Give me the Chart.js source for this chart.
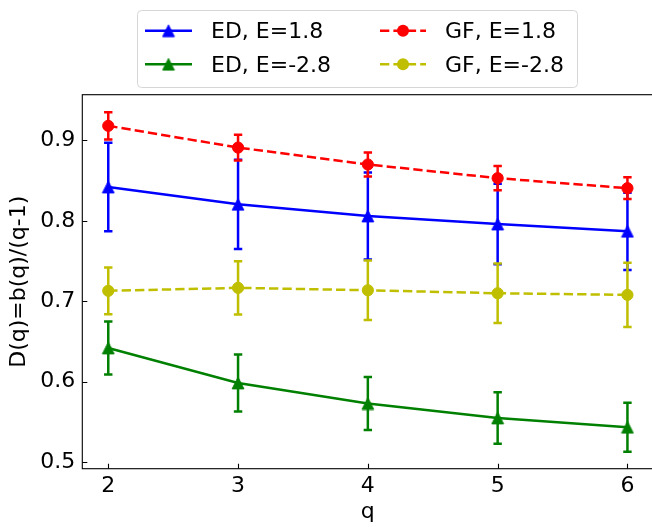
<!DOCTYPE html>
<html>
<head>
<meta charset="utf-8">
<script src="https://cdn.jsdelivr.net/npm/chart.js@4"></script>
<style>
  html, body { margin: 0; padding: 0; background: #fff; overflow: hidden; }
  #wrap { position: relative; width: 660px; height: 527px; }
</style>
</head>
<body>
<div id="wrap"><canvas id="myChart"></canvas></div>
<script>
// q values on the x axis
const qValues = [2, 3, 4, 5, 6];

// ED, E=1.8
const edHigh = [0.842, 0.8205, 0.806, 0.796, 0.787];
const edHighErr = [0.055, 0.0555, 0.054, 0.050, 0.048];
// ED, E=-2.8
const edLow = [0.642, 0.5985, 0.573, 0.555, 0.5435];
const edLowErr = [0.033, 0.0355, 0.033, 0.032, 0.0305];
// GF, E=1.8
const gfHigh = [0.918, 0.891, 0.870, 0.853, 0.8405];
const gfHighErr = [0.017, 0.016, 0.015, 0.015, 0.0135];
// GF, E=-2.8
const gfLow = [0.713, 0.7167, 0.7137, 0.710, 0.708];
const gfLowErr = [0.029, 0.033, 0.037, 0.037, 0.040];

const xTicks = [2, 3, 4, 5, 6];
const yTicks = [0.5, 0.6, 0.7, 0.8, 0.9];

const FONT = "'DejaVu Sans', sans-serif";
const LW = 2.5;
const DASH = [9.3, 4.1];

// triangle marker like matplotlib '^'
function makeTriangle(color) {
  var c = document.createElement("canvas");
  c.width = 14; c.height = 14;
  var g = c.getContext("2d");
  g.fillStyle = color;
  g.strokeStyle = color;
  g.lineWidth = 1;
  g.beginPath();
  g.moveTo(7, 1.2);
  g.lineTo(12.9, 12.9);
  g.lineTo(1.1, 12.9);
  g.closePath();
  g.fill();
  g.stroke();
  return c;
}

function pts(ys) {
  return qValues.map(function (q, i) { return { x: q, y: ys[i] }; });
}

var triBlue = makeTriangle("#0000ff");
var triGreen = makeTriangle("#008000");

var series = [
  { label: "ED, E=1.8", data: pts(edHigh), errors: edHighErr, borderColor: "#0000ff",
    pointStyle: triBlue, borderDash: [], order: 3 },
  { label: "ED, E=-2.8", data: pts(edLow), errors: edLowErr, borderColor: "#008000",
    pointStyle: triGreen, borderDash: [], order: 2 },
  { label: "GF, E=1.8", data: pts(gfHigh), errors: gfHighErr, borderColor: "#ff0000",
    pointStyle: "circle", borderDash: DASH, order: 1 },
  { label: "GF, E=-2.8", data: pts(gfLow), errors: gfLowErr, borderColor: "#bfbf00",
    pointStyle: "circle", borderDash: DASH, order: 0 },
];

series.forEach(function (s) {
  s.backgroundColor = s.borderColor;
  s.pointBackgroundColor = s.borderColor;
  s.pointBorderColor = s.borderColor;
  s.pointBorderWidth = 1;
  s.pointRadius = 5.6;
  s.borderWidth = LW;
  s.tension = 0;
  s.fill = false;
});

// error bars, drawn just under each series
var errorBars = {
  id: "errorBars",
  beforeDatasetDraw: function (chart, args) {
    var ds = chart.data.datasets[args.index];
    var xs = chart.scales.x, ys = chart.scales.y;
    var ctx = chart.ctx;
    var cap = 4.2;
    ctx.save();
    ctx.strokeStyle = ds.borderColor;
    ctx.lineWidth = LW;
    ctx.setLineDash([]);
    ds.data.forEach(function (p, i) {
      var px = xs.getPixelForValue(p.x);
      var top = ys.getPixelForValue(p.y + ds.errors[i]);
      var bot = ys.getPixelForValue(p.y - ds.errors[i]);
      ctx.beginPath();
      ctx.moveTo(px, top); ctx.lineTo(px, bot);
      ctx.moveTo(px - cap, top); ctx.lineTo(px + cap, top);
      ctx.moveTo(px - cap, bot); ctx.lineTo(px + cap, bot);
      ctx.stroke();
    });
    ctx.restore();
  },
};

// frame, inward ticks and legend
var frameAndLegend = {
  id: "frameAndLegend",
  afterDraw: function (chart) {
    var ctx = chart.ctx;
    var a = chart.chartArea;
    var xs = chart.scales.x, ys = chart.scales.y;
    ctx.save();
    ctx.strokeStyle = "#000";
    ctx.lineWidth = 1.1;
    ctx.strokeRect(a.left, a.top, a.right - a.left, a.bottom - a.top);
    ctx.beginPath();
    xTicks.forEach(function (v) {
      var px = Math.round(xs.getPixelForValue(v)) + 0.5;
      ctx.moveTo(px, a.bottom);
      ctx.lineTo(px, a.bottom - 5);
    });
    yTicks.forEach(function (v) {
      var py = Math.round(ys.getPixelForValue(v)) + 0.5;
      ctx.moveTo(a.left, py);
      ctx.lineTo(a.left + 5, py);
    });
    ctx.stroke();

    // legend box
    var bx = 137, by = 10, bw = 440, bh = 77, r = 4;
    ctx.fillStyle = "rgba(255,255,255,0.8)";
    ctx.strokeStyle = "#d6d6d6";
    ctx.lineWidth = 1;
    ctx.beginPath();
    ctx.roundRect(bx + 0.5, by + 0.5, bw, bh, r);
    ctx.fill();
    ctx.stroke();

    var cols = [{ x0: 145, x1: 192, tx: 211 }, { x0: 380, x1: 426, tx: 445 }];
    var rows = [{ cy: 30.7, base: 38.3 }, { cy: 64.3, base: 72.3 }];
    ctx.font = "22px " + FONT;
    ctx.textBaseline = "alphabetic";
    ctx.textAlign = "left";
    chart.data.datasets.forEach(function (ds, i) {
      var col = cols[Math.floor(i / 2)], row = rows[i % 2];
      var mx = (col.x0 + col.x1) / 2;
      ctx.strokeStyle = ds.borderColor;
      ctx.lineWidth = LW;
      ctx.setLineDash(ds.borderDash);
      ctx.beginPath();
      ctx.moveTo(col.x0, row.cy);
      ctx.lineTo(col.x1, row.cy);
      ctx.stroke();
      ctx.setLineDash([]);
      if (ds.pointStyle === "circle") {
        ctx.fillStyle = ds.borderColor;
        ctx.beginPath();
        ctx.arc(mx, row.cy, 6, 0, Math.PI * 2);
        ctx.fill();
      } else {
        ctx.drawImage(ds.pointStyle, mx - 7, row.cy - 7);
      }
      ctx.fillStyle = "#000";
      ctx.fillText(ds.label, col.tx, row.base);
    });
    ctx.restore();
  },
};

var ctx = document.getElementById("myChart").getContext("2d");
var myChart = new Chart(ctx, {
  type: "line",
  data: { datasets: series },
  plugins: [errorBars, frameAndLegend],
  options: {
    responsive: true,
    maintainAspectRatio: false,
    animation: false,
    devicePixelRatio: 1,
    layout: { padding: { top: 94.7, left: 0, right: 2.5, bottom: 0 } },
    plugins: {
      legend: { display: false },
      tooltip: { enabled: false },
    },
    scales: {
      x: {
        type: "linear",
        min: 1.8,
        max: 6.2,
        afterBuildTicks: function (scale) {
          scale.ticks = xTicks.map(function (v) { return { value: v }; });
        },
        afterFit: function (scale) { scale.height = 58.3; },
        ticks: {
          color: "#000",
          font: { family: FONT, size: 22 },
          padding: 4,
          maxRotation: 0,
          callback: function (v) { return String(v); },
        },
        grid: { drawOnChartArea: false, drawTicks: false },
        border: { display: false },
        title: {
          display: true,
          text: "q",
          color: "#000",
          font: { family: FONT, size: 22 },
          padding: { top: 0, bottom: 1.5 },
        },
      },
      y: {
        type: "linear",
        min: 0.492,
        max: 0.9567,
        afterBuildTicks: function (scale) {
          scale.ticks = yTicks.map(function (v) { return { value: v }; });
        },
        afterFit: function (scale) { scale.width = 82.3; },
        ticks: {
          color: "#000",
          font: { family: FONT, size: 22 },
          padding: 7,
          callback: function (v) { return v.toFixed(1); },
        },
        grid: { drawOnChartArea: false, drawTicks: false },
        border: { display: false },
        title: {
          display: true,
          text: "D(q)=b(q)/(q-1)",
          color: "#000",
          font: { family: FONT, size: 22 },
          padding: { top: 5.8, bottom: 0 },
        },
      },
    },
  },
});
</script>
</body>
</html>
